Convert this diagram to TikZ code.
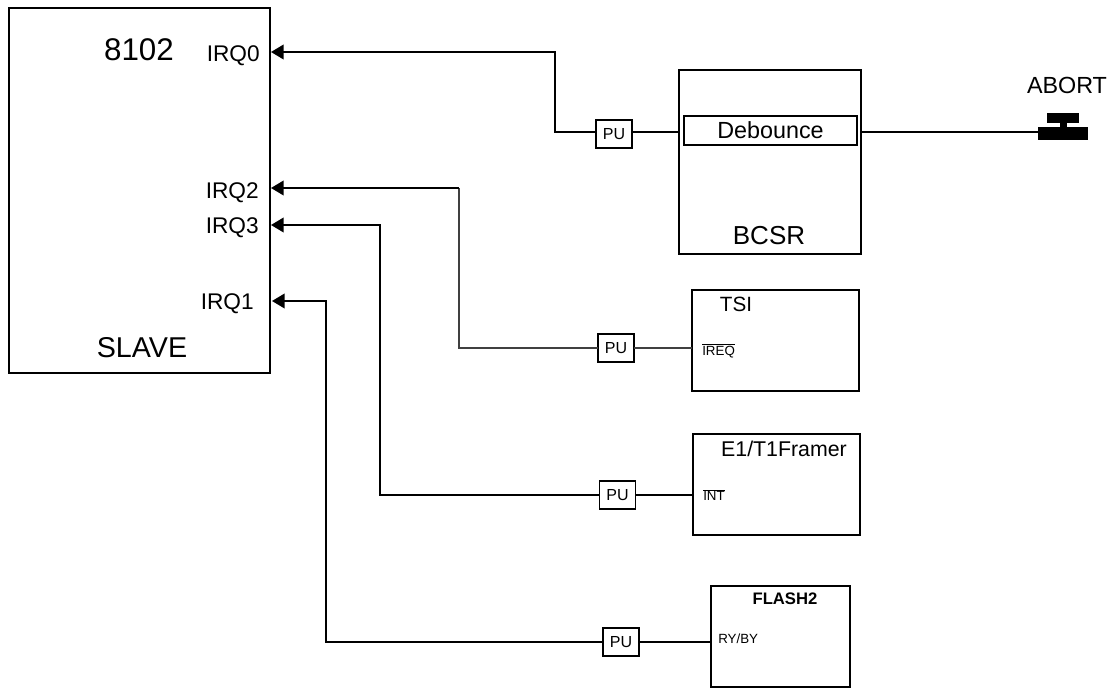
\documentclass[tikz,border=0pt]{standalone}
\usepackage{fontspec}
\setmainfont{Liberation Sans}
\usetikzlibrary{arrows.meta}

\begin{document}
\begin{tikzpicture}[x=.75pt,y=-.75pt,>={Triangle[length=9.5pt,width=11pt]},
  blockbox/.style={draw,line width=1.2pt,inner sep=0,outer sep=0},
  pubox/.style={blockbox,minimum width=27pt,minimum height=21pt,font=\fontsize{12}{14}\selectfont},
  wire/.style={line width=1.35pt},
  thinwire/.style={line width=.9pt,black!75},
  pinlabel/.style={anchor=east,inner sep=0,font=\fontsize{17}{20}\selectfont},
  sidelabel/.style={anchor=west,inner sep=0,font=\fontsize{10}{12}\selectfont}]
 \useasboundingbox (0,0) rectangle (1110,688);
 % blocks
 \node[blockbox,minimum width=195.75pt,minimum height=273.75pt] (slave) at (139.5,190.5) {};
 \node[blockbox,minimum width=136.5pt,minimum height=138pt] (bcsr) at (770,162) {};
 \node[blockbox,minimum width=129.75pt,minimum height=21.75pt,font=\fontsize{17.5}{20}\selectfont] (debounce) at (770.5,130.5) {Debounce};
 \node[blockbox,minimum width=125.25pt,minimum height=75.75pt] (tsi) at (775.5,340.5) {};
 \node[blockbox,minimum width=125.25pt,minimum height=75.75pt] (framer) at (776.5,484.5) {};
 \node[blockbox,minimum width=104.25pt,minimum height=75.75pt] (flash) at (780.5,636.5) {};
 \node[pubox] (pua) at (614,134) {PU};
 \node[pubox] (pub) at (616,348) {PU};
 \node[pubox] (puc) at (617.5,495) {PU};
 \node[pubox] (pud) at (621,642) {PU};
 % texts
 \node[font=\fontsize{23.5}{26}\selectfont] (chip) at (139,50) {8102};
 \node[font=\fontsize{21.5}{24}\selectfont] (slavetext) at (142,348) {SLAVE};
 \node[font=\fontsize{19.5}{22}\selectfont] (bcsrtext) at (769,236) {BCSR};
 \node[font=\fontsize{17.5}{20}\selectfont] (aborttext) at (1067,85) {ABORT};
 \node[pinlabel] (irqa) at (260,56) {IRQ0};
 \node[pinlabel] (irqc) at (259,193) {IRQ2};
 \node[pinlabel] (irqd) at (259,228) {IRQ3};
 \node[pinlabel] (irqb) at (254,304) {IRQ1};
 \node[font=\fontsize{15.5}{18}\selectfont] (tsitext) at (736,304) {TSI};
 \node[font=\fontsize{16}{18}\selectfont] (framertext) at (784,449) {E1/T1Framer};
 \node[font=\bfseries\fontsize{12.5}{14}\selectfont] (flashtext) at (785,599) {FLASH2};
 \node[sidelabel] (ireq) at (702,351) {$\overline{\mbox{IREQ}}$};
 \node[sidelabel] (int) at (703,495) {$\overline{\mbox{INT}}$};
 \node[sidelabel] (rdy) at (718,639) {RY/BY};
 % abort switch
 \fill (1047,113) rectangle (1079,123);
 \fill (1060,123) rectangle (1067,127);
 \fill (1038,127) rectangle (1088,140);
 \coordinate (switch) at (1038,132);
 \coordinate (pina) at (271,52);
 \coordinate (pinc) at (271,188);
 \coordinate (pind) at (271,225);
 \coordinate (pinb) at (272,301);
 % connectors
 \draw[wire] (bcsr.east |- 0,132) -- (switch);
 \draw[wire] (bcsr.west |- 0,132) -- (pua.east |- 0,132);
 \draw[wire,->] (pua.west |- 0,132) -- (555,132) |- (pina);
 \draw[thinwire] (tsi.west |- pub) -- (pub.east);
 \draw[thinwire] (pub.west) -- (459,348) -- (459,188);
 \draw[wire,->] (459,188) -- (pinc);
 \draw[wire] (framer.west |- puc) -- (puc.east);
 \draw[wire,->] (puc.west) -- (380,495) |- (pind);
 \draw[wire] (flash.west |- pud) -- (pud.east);
 \draw[wire,->] (pud.west) -- (326,642) |- (pinb);
\end{tikzpicture}
\end{document}
